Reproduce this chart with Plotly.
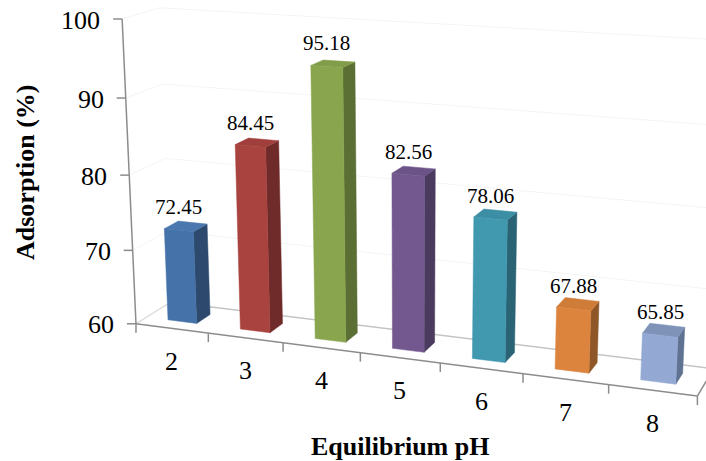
import numpy as np
import plotly.graph_objects as go

# Equilibrium pH categories and measured adsorption (%)
ph = [2, 3, 4, 5, 6, 7, 8]
adsorption = [72.45, 84.45, 95.18, 82.56, 78.06, 67.88, 65.85]
y_ticks = [60, 70, 80, 90, 100]
BASE = 60  # floor of the value axis

# Perspective camera for the 3-D column view: world (category, depth, value-BASE)
# -> page pixels.  Rows of a 3x4 homogeneous projection matrix.
PROJECTION = np.array([
    [69.00906, 41.41021, -0.491961, 135.97893],
    [3.970627, -10.336258, -7.642713, 323.79714],
    [-0.01605079, 0.03784937, -0.00119705, 1.0],
])

FONT = "'Liberation Serif', Tinos, 'Times New Roman', 'DejaVu Serif', serif"
AXIS_GREY = "#8C8C8C"

# face colours per bar: front, side, top
colors = [
    ("#4572A8", "#2D4A6E", "#4A78AE"),
    ("#A9433F", "#6E2B29", "#A03F3C"),
    ("#89A64E", "#5B6E33", "#819D49"),
    ("#72588F", "#4A3A5E", "#6B5387"),
    ("#4199B0", "#2A6374", "#3C8EA4"),
    ("#DC843D", "#8F5627", "#D07C39"),
    ("#93A9D4", "#607292", "#7F92B8"),
]


def proj(X, Y, Z):
    h = PROJECTION @ np.array([X, Y, Z, 1.0])
    return h[0] / h[2], h[1] / h[2]


fig = go.Figure()


def line(pts3, color, width):
    xy = [proj(*q) for q in pts3]
    fig.add_trace(go.Scatter(x=[a for a, _ in xy], y=[c for _, c in xy], mode="lines",
                             line=dict(color=color, width=width), hoverinfo="skip", showlegend=False))


def poly(pts3, color):
    xy = [proj(*q) for q in pts3]
    xy.append(xy[0])
    fig.add_trace(go.Scatter(x=[a for a, _ in xy], y=[c for _, c in xy], mode="lines", fill="toself",
                             fillcolor=color, line=dict(color=color, width=0.5),
                             hoverinfo="skip", showlegend=False))


n = len(ph)
# faint gridlines on side and back walls
for t in y_ticks[1:]:
    line([(0, 0, t - BASE), (0, 1, t - BASE), (n, 1, t - BASE)], "#F4F4F4", 1)
# floor edges
line([(0, 0, 0), (0, 1, 0)], "#D8D8D8", 1.2)
line([(0, 1, 0), (n, 1, 0)], "#C4C4C4", 1.5)
line([(n, 0, 0), (n, 1, 0)], AXIS_GREY, 1.5)

# 3-D columns: side, top, then front face
for i, val in enumerate(adsorption):
    x0, x1, y0, y1, h = i + 0.3, i + 0.7, 0.3, 0.7, val - BASE
    fc, sc, tc = colors[i]
    poly([(x1, y0, 0), (x1, y1, 0), (x1, y1, h), (x1, y0, h)], sc)
    poly([(x0, y0, h), (x1, y0, h), (x1, y1, h), (x0, y1, h)], tc)
    poly([(x0, y0, 0), (x1, y0, 0), (x1, y0, h), (x0, y0, h)], fc)
    cx, cy = proj(i + 0.5, y0, h)
    fig.add_annotation(x=cx, y=cy, text=f"{val:.2f}", showarrow=False, yshift=23,
                       font=dict(family=FONT, size=21, color="#000"))

# value axis with ticks and labels
line([(0, 0, 0), (0, 0, y_ticks[-1] - BASE)], AXIS_GREY, 1.5)
for t in y_ticks:
    u, v = proj(0, 0, t - BASE)
    fig.add_trace(go.Scatter(x=[u - 9, u], y=[v, v], mode="lines", line=dict(color=AXIS_GREY, width=1.5),
                             hoverinfo="skip", showlegend=False))
    fig.add_annotation(x=u, y=v, text=str(t), showarrow=False, xanchor="right", xshift=-20, yshift=-1,
                       font=dict(family=FONT, size=26, color="#000"))

# category axis along the front floor edge
line([(0, 0, 0), (n, 0, 0)], AXIS_GREY, 1.5)
for k in range(n + 1):
    u, v = proj(k, 0, 0)
    fig.add_trace(go.Scatter(x=[u, u], y=[v, v + 9], mode="lines", line=dict(color=AXIS_GREY, width=1.5),
                             hoverinfo="skip", showlegend=False))
for i, lab in enumerate(ph):
    u, v = proj(i + 0.5, 0, 0)
    fig.add_annotation(x=u, y=v, text=str(lab), showarrow=False, yshift=-33,
                       font=dict(family=FONT, size=26, color="#000"))

fig.add_annotation(x=25, y=172, text="<b>Adsorption (%)</b>", textangle=-90, showarrow=False,
                   font=dict(family=FONT, size=26, color="#000"))
fig.add_annotation(x=400, y=446, text="<b>Equilibrium pH</b>", showarrow=False,
                   font=dict(family=FONT, size=26, color="#000"))

fig.update_layout(width=706, height=461, margin=dict(l=0, r=0, t=0, b=0),
                  paper_bgcolor="white", plot_bgcolor="white",
                  xaxis=dict(range=[0, 706], visible=False, fixedrange=True),
                  yaxis=dict(range=[461, 0], visible=False, fixedrange=True))
fig.write_html("out.html", config={"displayModeBar": False})
